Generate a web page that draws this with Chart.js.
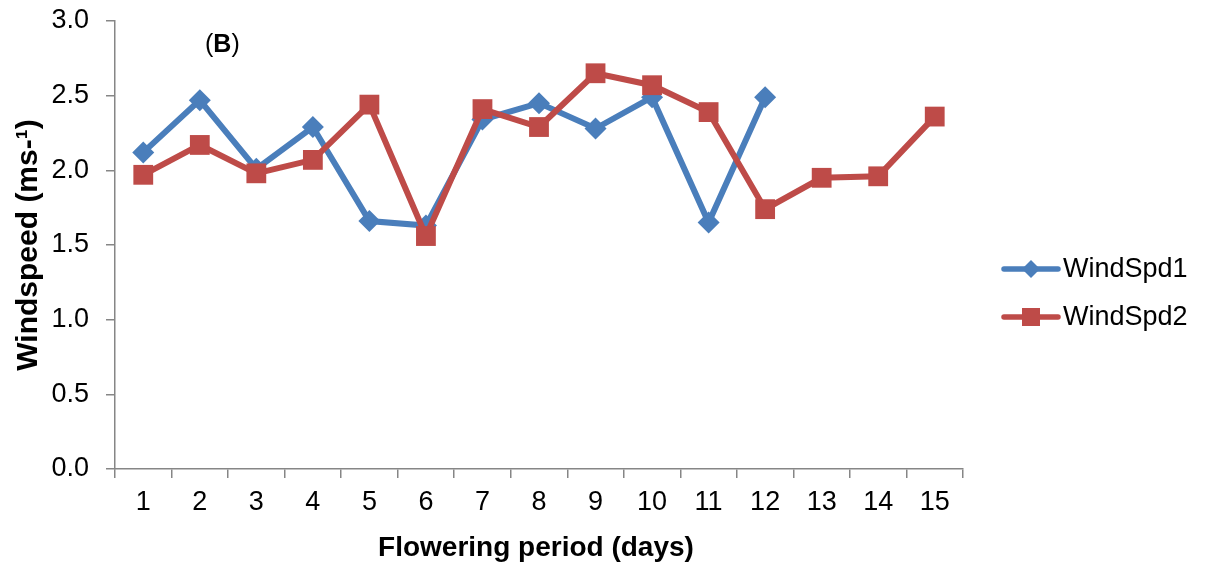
<!DOCTYPE html>
<html>
<head>
<meta charset="utf-8">
<title>Windspeed during flowering period</title>
<script src="https://cdn.jsdelivr.net/npm/chart.js@4/dist/chart.umd.min.js"></script>
<style>
  html, body { margin: 0; padding: 0; background: #ffffff; }
  canvas { display: block; }
</style>
</head>
<body>
<canvas id="chart" width="1206" height="562"></canvas>
<script>
// Flowering period days
const days = ['1', '2', '3', '4', '5', '6', '7', '8', '9', '10', '11', '12', '13', '14', '15'];

// Daily mean windspeed (m s-1)
const windSpd1 = [2.12, 2.47, 2.01, 2.29, 1.66, 1.63, 2.34, 2.45, 2.28, 2.49, 1.65, 2.49];
const windSpd2 = [1.97, 2.17, 1.98, 2.07, 2.44, 1.56, 2.41, 2.29, 2.65, 2.57, 2.39, 1.74, 1.95, 1.96, 2.36];

// Y axis tick values
const yTicks = [0, 0.5, 1.0, 1.5, 2.0, 2.5, 3.0];

const seriesNames = ['WindSpd1', 'WindSpd2'];
const BLUE = '#4a7ebb';
const RED = '#be4b48';
const AXIS = '#868686';
const FONT = '"Liberation Sans", Arial, Helvetica, sans-serif';

function diamond(ctx, x, y, r) {
  ctx.beginPath();
  ctx.moveTo(x, y - r);
  ctx.lineTo(x + r, y);
  ctx.lineTo(x, y + r);
  ctx.lineTo(x - r, y);
  ctx.closePath();
  ctx.fill();
}

// Titles, panel label and legend drawn on top of the chart
const annotations = {
  id: 'annotations',
  afterDraw(chart) {
    const ctx = chart.ctx;
    ctx.save();
    ctx.fillStyle = '#000';

    // x-axis title
    ctx.font = 'bold 28px ' + FONT;
    ctx.textAlign = 'center';
    ctx.textBaseline = 'alphabetic';
    ctx.fillText('Flowering period (days)', 536, 556);

    // y-axis title
    ctx.save();
    ctx.translate(37, 245);
    ctx.rotate(-Math.PI / 2);
    ctx.font = 'bold 30px ' + FONT;
    ctx.fillText('Windspeed (ms-\u00B9)', 0, 0);
    ctx.restore();

    // panel label "(B)"
    ctx.textAlign = 'left';
    let x = 205;
    ctx.font = '25px ' + FONT;
    ctx.fillText('(', x, 52);
    x += ctx.measureText('(').width;
    ctx.font = 'bold 25px ' + FONT;
    ctx.fillText('B', x, 52);
    x += ctx.measureText('B').width;
    ctx.font = '25px ' + FONT;
    ctx.fillText(')', x, 52);

    // legend
    const rows = [
      { name: seriesNames[0], color: BLUE, y: 269, marker: 'diamond' },
      { name: seriesNames[1], color: RED, y: 317, marker: 'square' }
    ];
    rows.forEach(r => {
      ctx.strokeStyle = r.color;
      ctx.fillStyle = r.color;
      ctx.lineWidth = 5.5;
      ctx.lineCap = 'round';
      ctx.beginPath();
      ctx.moveTo(1004, r.y);
      ctx.lineTo(1058, r.y);
      ctx.stroke();
      if (r.marker === 'diamond') {
        diamond(ctx, 1031, r.y, 9);
      } else {
        ctx.fillRect(1022, r.y - 9, 18, 18);
      }
      ctx.fillStyle = '#000';
      ctx.font = '27px ' + FONT;
      ctx.textAlign = 'left';
      ctx.textBaseline = 'middle';
      ctx.fillText(r.name, 1063, r.y + 1);
    });
    ctx.restore();
  }
};

new Chart(document.getElementById('chart'), {
  type: 'line',
  data: {
    labels: days,
    datasets: [
      {
        label: seriesNames[0],
        data: windSpd1,
        borderColor: BLUE,
        backgroundColor: BLUE,
        borderWidth: 6,
        pointStyle: 'rectRot',
        pointRadius: 11,
        pointBorderWidth: 0,
        pointBackgroundColor: BLUE,
        tension: 0,
        order: 1
      },
      {
        label: seriesNames[1],
        data: windSpd2,
        borderColor: RED,
        backgroundColor: RED,
        borderWidth: 6,
        pointStyle: 'rect',
        pointRadius: 14,
        pointBorderWidth: 0,
        pointBackgroundColor: RED,
        tension: 0,
        order: 0
      }
    ]
  },
  options: {
    responsive: false,
    animation: false,
    devicePixelRatio: 1,
    layout: { padding: { top: 21, right: 243, left: 0, bottom: 0 } },
    plugins: {
      legend: { display: false },
      tooltip: { enabled: false }
    },
    scales: {
      x: {
        type: 'category',
        offset: true,
        grid: {
          offset: true,
          drawOnChartArea: false,
          drawTicks: true,
          tickLength: 9,
          color: AXIS,
          lineWidth: 1.5
        },
        border: { color: AXIS, width: 1.5 },
        ticks: {
          color: '#000',
          font: { family: FONT, size: 27 },
          padding: 8,
          maxRotation: 0,
          autoSkip: false
        },
        afterFit(scale) {
          scale.height = 93;
          scale.paddingLeft = 0;
          scale.paddingRight = 0;
        }
      },
      y: {
        min: 0,
        max: 3,
        afterBuildTicks(scale) { scale.ticks = yTicks.map(v => ({ value: v })); },
        grid: {
          drawOnChartArea: false,
          drawTicks: true,
          tickLength: 9,
          color: AXIS,
          lineWidth: 1.5
        },
        border: { color: AXIS, width: 1.5 },
        ticks: {
          color: '#000',
          font: { family: FONT, size: 27 },
          padding: 17,
          callback: v => Number(v).toFixed(1)
        },
        afterFit(scale) {
          scale.width = 115;
          scale.paddingTop = 0;
          scale.paddingBottom = 0;
        }
      }
    }
  },
  plugins: [annotations]
});
</script>
</body>
</html>
